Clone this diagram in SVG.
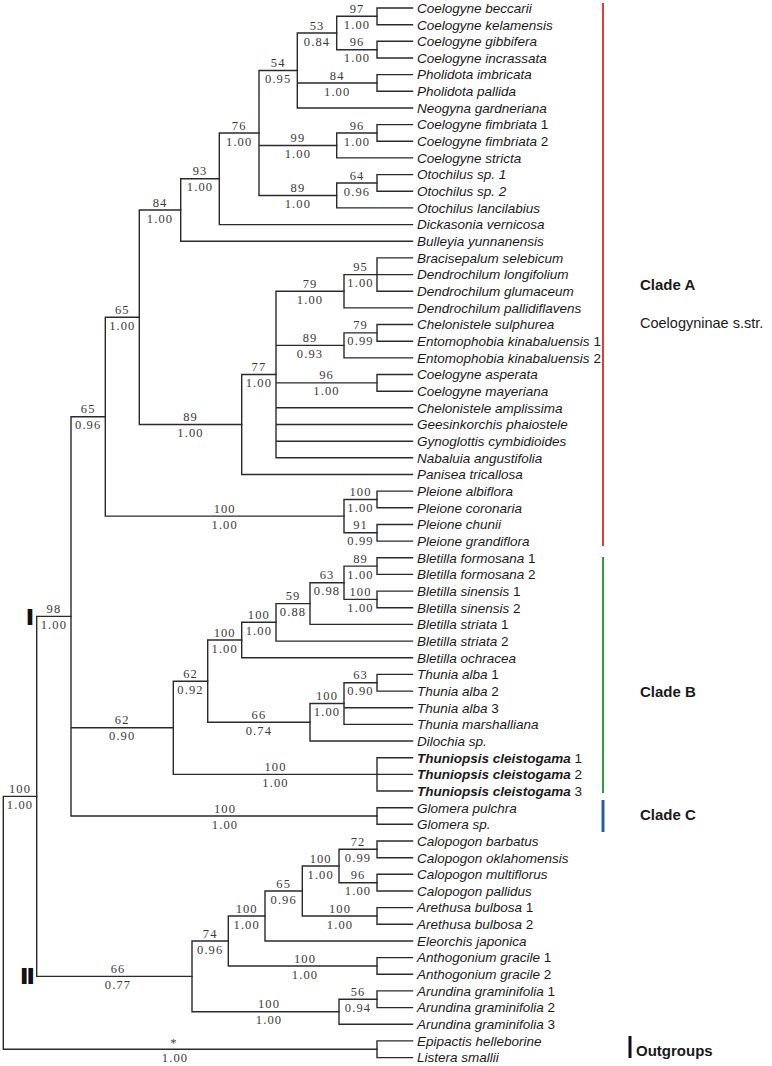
<svg xmlns="http://www.w3.org/2000/svg" width="772" height="1066" viewBox="0 0 772 1066">
<style>
.br{fill:none;stroke:#2a2a2a;stroke-width:1.4;stroke-linecap:square}
.lf{font-family:"Liberation Sans",Arial,sans-serif;font-size:13.5px;font-style:italic;fill:#1a1a1a}
.lf .n{font-style:normal}
.bd{font-weight:bold}
.sp{font-family:"Liberation Serif","Times New Roman",serif;font-size:12.5px;fill:#3a3a3a;text-anchor:middle;letter-spacing:1.1px}
.cl{font-family:"Liberation Sans",Arial,sans-serif;font-weight:bold;font-size:15px;fill:#1a1a1a}
.cs{font-family:"Liberation Sans",Arial,sans-serif;font-size:14.5px;fill:#1a1a1a}
.rm{font-family:"Liberation Sans",Arial,sans-serif;font-weight:bold;font-size:19.5px;fill:#111;stroke:#111;stroke-width:1.8;text-anchor:middle}
</style>
<rect width="772" height="1066" fill="#fff"/>
<g id="connectors">
<path class="br" d="M377 8V24.7M377 8H412.5M377 24.7H412.5"/>
<path class="br" d="M377 41.3V58M377 41.3H412.5M377 58H412.5"/>
<path class="br" d="M336.7 16.3V49.7M336.7 16.3H377M336.7 49.7H377"/>
<path class="br" d="M377 74.6V91.3M377 74.6H412.5M377 91.3H412.5"/>
<path class="br" d="M297.3 33V108M297.3 33H336.7M297.3 83H377M297.3 108H412.5"/>
<path class="br" d="M377 124.6V141.3M377 124.6H412.5M377 141.3H412.5"/>
<path class="br" d="M336.7 133V157.9M336.7 133H377M336.7 157.9H412.5"/>
<path class="br" d="M377 174.6V191.3M377 174.6H412.5M377 191.3H412.5"/>
<path class="br" d="M336.7 183V207.9M336.7 183H377M336.7 207.9H412.5"/>
<path class="br" d="M259 70.5V195.5M259 70.5H297.3M259 145.5H336.7M259 195.5H336.7"/>
<path class="br" d="M219.3 133V224.6M219.3 133H259M219.3 224.6H412.5"/>
<path class="br" d="M180.7 178.8V241.2M180.7 178.8H219.3M180.7 241.2H412.5"/>
<path class="br" d="M377 257.9V291.2M377 257.9H412.5M377 274.6H412.5M377 291.2H412.5"/>
<path class="br" d="M344 274.6V307.9M344 274.6H377M344 307.9H412.5"/>
<path class="br" d="M377 324.5V341.2M377 324.5H412.5M377 341.2H412.5"/>
<path class="br" d="M344 332.9V357.9M344 332.9H377M344 357.9H412.5"/>
<path class="br" d="M377 374.5V391.2M377 374.5H412.5M377 391.2H412.5"/>
<path class="br" d="M276 291.2V457.8M276 291.2H344M276 345.4H344M276 382.9H377M276 407.8H412.5M276 424.5H412.5M276 441.2H412.5M276 457.8H412.5"/>
<path class="br" d="M241.7 374.5V474.5M241.7 374.5H276M241.7 474.5H412.5"/>
<path class="br" d="M139.3 210V424.5M139.3 210H180.7M139.3 424.5H241.7"/>
<path class="br" d="M377 491.1V507.8M377 491.1H412.5M377 507.8H412.5"/>
<path class="br" d="M377 524.5V541.1M377 524.5H412.5M377 541.1H412.5"/>
<path class="br" d="M344 499.5V532.8M344 499.5H377M344 532.8H377"/>
<path class="br" d="M105.3 317.3V516.1M105.3 317.3H139.3M105.3 516.1H344"/>
<path class="br" d="M377 557.8V574.4M377 557.8H412.5M377 574.4H412.5"/>
<path class="br" d="M377 591.1V607.8M377 591.1H412.5M377 607.8H412.5"/>
<path class="br" d="M344 566.1V599.4M344 566.1H377M344 599.4H377"/>
<path class="br" d="M310 582.8V624.4M310 582.8H344M310 624.4H412.5"/>
<path class="br" d="M276 603.6V641.1M276 603.6H310M276 641.1H412.5"/>
<path class="br" d="M241.7 622.3V657.7M241.7 622.3H276M241.7 657.7H412.5"/>
<path class="br" d="M377 674.4V691.1M377 674.4H412.5M377 691.1H412.5"/>
<path class="br" d="M344 682.7V724.4M344 682.7H377M344 707.7H412.5M344 724.4H412.5"/>
<path class="br" d="M310 703.5V741M310 703.5H344M310 741H412.5"/>
<path class="br" d="M207.7 640V722.3M207.7 640H241.7M207.7 722.3H310"/>
<path class="br" d="M377 757.7V791M377 757.7H412.5M377 774.4H412.5M377 791H412.5"/>
<path class="br" d="M173.3 681.2V774.4M173.3 681.2H207.7M173.3 774.4H377"/>
<path class="br" d="M377 807.7V824.3M377 807.7H412.5M377 824.3H412.5"/>
<path class="br" d="M71 416.7V816M71 416.7H105.3M71 727.8H173.3M71 816H377"/>
<path class="br" d="M377 841V857.7M377 841H412.5M377 857.7H412.5"/>
<path class="br" d="M377 874.3V891M377 874.3H412.5M377 891H412.5"/>
<path class="br" d="M339 849.3V882.7M339 849.3H377M339 882.7H377"/>
<path class="br" d="M377 907.6V924.3M377 907.6H412.5M377 924.3H412.5"/>
<path class="br" d="M302.3 866V916M302.3 866H339M302.3 916H377"/>
<path class="br" d="M265 891V941M265 891H302.3M265 941H412.5"/>
<path class="br" d="M377 957.6V974.3M377 957.6H412.5M377 974.3H412.5"/>
<path class="br" d="M228.3 916V966M228.3 916H265M228.3 966H377"/>
<path class="br" d="M377 990.9V1007.6M377 990.9H412.5M377 1007.6H412.5"/>
<path class="br" d="M339 999.3V1024.3M339 999.3H377M339 1024.3H412.5"/>
<path class="br" d="M192 941V1011.8M192 941H228.3M192 1011.8H339"/>
<path class="br" d="M36.7 616.4V976.4M36.7 616.4H71M36.7 976.4H192"/>
<path class="br" d="M377 1040.9V1057.6M377 1040.9H412.5M377 1057.6H412.5"/>
<path class="br" d="M3.3 796.4V1049.3M3.3 796.4H36.7M3.3 1049.3H377"/>
</g>
<g id="supports">
<g id="n-a1"><text class="sp" x="357" y="12.8">97</text><text class="sp" x="357" y="28.8">1.00</text></g>
<g id="n-a2"><text class="sp" x="357" y="46.2">96</text><text class="sp" x="357" y="62.2">1.00</text></g>
<g id="n-a3"><text class="sp" x="317" y="29.5">53</text><text class="sp" x="317" y="45.5">0.84</text></g>
<g id="n-a4"><text class="sp" x="337.2" y="79.5">84</text><text class="sp" x="337.2" y="95.5">1.00</text></g>
<g id="n-a5"><text class="sp" x="278.2" y="67">54</text><text class="sp" x="278.2" y="83">0.95</text></g>
<g id="n-a6"><text class="sp" x="357" y="129.5">96</text><text class="sp" x="357" y="145.5">1.00</text></g>
<g id="n-a7"><text class="sp" x="297.9" y="142">99</text><text class="sp" x="297.9" y="158">1.00</text></g>
<g id="n-a8"><text class="sp" x="357" y="179.5">64</text><text class="sp" x="357" y="195.5">0.96</text></g>
<g id="n-a9"><text class="sp" x="297.9" y="192">89</text><text class="sp" x="297.9" y="208">1.00</text></g>
<g id="n-a10"><text class="sp" x="239.2" y="129.5">76</text><text class="sp" x="239.2" y="145.5">1.00</text></g>
<g id="n-a11"><text class="sp" x="200" y="175.3">93</text><text class="sp" x="200" y="191.3">1.00</text></g>
<g id="n-a12"><text class="sp" x="160" y="206.5">84</text><text class="sp" x="160" y="222.5">1.00</text></g>
<g id="n-a13"><text class="sp" x="360.5" y="271.1">95</text><text class="sp" x="360.5" y="287.1">1.00</text></g>
<g id="n-a14"><text class="sp" x="310" y="287.7">79</text><text class="sp" x="310" y="303.7">1.00</text></g>
<g id="n-a15"><text class="sp" x="360.5" y="329.4">79</text><text class="sp" x="360.5" y="345.4">0.99</text></g>
<g id="n-a16"><text class="sp" x="310" y="341.9">89</text><text class="sp" x="310" y="357.9">0.93</text></g>
<g id="n-a17"><text class="sp" x="326.5" y="379.4">96</text><text class="sp" x="326.5" y="395.4">1.00</text></g>
<g id="n-a18"><text class="sp" x="258.9" y="371">77</text><text class="sp" x="258.9" y="387">1.00</text></g>
<g id="n-a19"><text class="sp" x="190.5" y="421">89</text><text class="sp" x="190.5" y="437">1.00</text></g>
<g id="n-a20"><text class="sp" x="122.3" y="313.8">65</text><text class="sp" x="122.3" y="329.8">1.00</text></g>
<g id="n-a21"><text class="sp" x="360.5" y="496">100</text><text class="sp" x="360.5" y="512">1.00</text></g>
<g id="n-a22"><text class="sp" x="360.5" y="529.3">91</text><text class="sp" x="360.5" y="545.3">0.99</text></g>
<g id="n-a23"><text class="sp" x="224.7" y="512.6">100</text><text class="sp" x="224.7" y="528.6">1.00</text></g>
<g id="n-a24"><text class="sp" x="88.2" y="413.2">65</text><text class="sp" x="88.2" y="429.2">0.96</text></g>
<g id="n-b1"><text class="sp" x="360.5" y="562.6">89</text><text class="sp" x="360.5" y="578.6">1.00</text></g>
<g id="n-b2"><text class="sp" x="360.5" y="595.9">100</text><text class="sp" x="360.5" y="611.9">1.00</text></g>
<g id="n-b3"><text class="sp" x="327" y="579.3">63</text><text class="sp" x="327" y="595.3">0.98</text></g>
<g id="n-b4"><text class="sp" x="293" y="600.1">59</text><text class="sp" x="293" y="616.1">0.88</text></g>
<g id="n-b5"><text class="sp" x="258.9" y="618.8">100</text><text class="sp" x="258.9" y="634.8">1.00</text></g>
<g id="n-b6"><text class="sp" x="224.7" y="636.5">100</text><text class="sp" x="224.7" y="652.5">1.00</text></g>
<g id="n-b7"><text class="sp" x="360.5" y="679.2">63</text><text class="sp" x="360.5" y="695.2">0.90</text></g>
<g id="n-b8"><text class="sp" x="327" y="700">100</text><text class="sp" x="327" y="716">1.00</text></g>
<g id="n-b9"><text class="sp" x="258.9" y="718.8">66</text><text class="sp" x="258.9" y="734.8">0.74</text></g>
<g id="n-b10"><text class="sp" x="190.5" y="677.7">62</text><text class="sp" x="190.5" y="693.7">0.92</text></g>
<g id="n-b11"><text class="sp" x="275.5" y="770.9">100</text><text class="sp" x="275.5" y="786.9">1.00</text></g>
<g id="n-b12"><text class="sp" x="122.2" y="724.3">62</text><text class="sp" x="122.2" y="740.3">0.90</text></g>
<g id="n-c1"><text class="sp" x="225" y="812.5">100</text><text class="sp" x="225" y="828.5">1.00</text></g>
<g id="n-98"><text class="sp" x="53.9" y="612.9">98</text><text class="sp" x="53.9" y="628.9">1.00</text></g>
<g id="n-d1"><text class="sp" x="358" y="845.8">72</text><text class="sp" x="358" y="861.8">0.99</text></g>
<g id="n-d2"><text class="sp" x="358" y="879.2">96</text><text class="sp" x="358" y="895.2">1.00</text></g>
<g id="n-d3"><text class="sp" x="320.7" y="862.5">100</text><text class="sp" x="320.7" y="878.5">1.00</text></g>
<g id="n-d4"><text class="sp" x="340" y="912.5">100</text><text class="sp" x="340" y="928.5">1.00</text></g>
<g id="n-d5"><text class="sp" x="283.7" y="887.5">65</text><text class="sp" x="283.7" y="903.5">0.96</text></g>
<g id="n-d6"><text class="sp" x="246.7" y="912.5">100</text><text class="sp" x="246.7" y="928.5">1.00</text></g>
<g id="n-d7"><text class="sp" x="305" y="962.5">100</text><text class="sp" x="305" y="978.5">1.00</text></g>
<g id="n-d8"><text class="sp" x="210.2" y="937.5">74</text><text class="sp" x="210.2" y="953.5">0.96</text></g>
<g id="n-d9"><text class="sp" x="358" y="995.8">56</text><text class="sp" x="358" y="1011.8">0.94</text></g>
<g id="n-d10"><text class="sp" x="269" y="1008.3">100</text><text class="sp" x="269" y="1024.3">1.00</text></g>
<g id="n-d11"><text class="sp" x="118" y="972.9">66</text><text class="sp" x="118" y="988.9">0.77</text></g>
<g id="n-i"><text class="sp" x="20" y="792.9">100</text><text class="sp" x="20" y="808.9">1.00</text></g>
<g id="n-out"><text class="sp" x="174" y="1047">*</text><text class="sp" x="175" y="1061.8">1.00</text></g>
</g>
<g id="leaves">
<g id="l01"><text class="lf" x="417" y="12.8">Coelogyne beccarii</text></g>
<g id="l02"><text class="lf" x="417" y="29.5">Coelogyne kelamensis</text></g>
<g id="l03"><text class="lf" x="417" y="46.1">Coelogyne gibbifera</text></g>
<g id="l04"><text class="lf" x="417" y="62.8">Coelogyne incrassata</text></g>
<g id="l05"><text class="lf" x="417" y="79.4">Pholidota imbricata</text></g>
<g id="l06"><text class="lf" x="417" y="96.1">Pholidota pallida</text></g>
<g id="l07"><text class="lf" x="417" y="112.8">Neogyna gardneriana</text></g>
<g id="l08"><text class="lf" x="417" y="129.4">Coelogyne fimbriata <tspan class="n">1</tspan></text></g>
<g id="l09"><text class="lf" x="417" y="146.1">Coelogyne fimbriata <tspan class="n">2</tspan></text></g>
<g id="l10"><text class="lf" x="417" y="162.7">Coelogyne stricta</text></g>
<g id="l11"><text class="lf" x="417" y="179.4">Otochilus sp. 1</text></g>
<g id="l12"><text class="lf" x="417" y="196.1">Otochilus sp. 2</text></g>
<g id="l13"><text class="lf" x="417" y="212.7">Otochilus lancilabius</text></g>
<g id="l14"><text class="lf" x="417" y="229.4">Dickasonia vernicosa</text></g>
<g id="l15"><text class="lf" x="417" y="246">Bulleyia yunnanensis</text></g>
<g id="l16"><text class="lf" x="417" y="262.7">Bracisepalum selebicum</text></g>
<g id="l17"><text class="lf" x="417" y="279.4">Dendrochilum longifolium</text></g>
<g id="l18"><text class="lf" x="417" y="296">Dendrochilum glumaceum</text></g>
<g id="l19"><text class="lf" x="417" y="312.7">Dendrochilum pallidiflavens</text></g>
<g id="l20"><text class="lf" x="417" y="329.3">Chelonistele sulphurea</text></g>
<g id="l21"><text class="lf" x="417" y="346">Entomophobia kinabaluensis <tspan class="n">1</tspan></text></g>
<g id="l22"><text class="lf" x="417" y="362.7">Entomophobia kinabaluensis <tspan class="n">2</tspan></text></g>
<g id="l23"><text class="lf" x="417" y="379.3">Coelogyne asperata</text></g>
<g id="l24"><text class="lf" x="417" y="396">Coelogyne mayeriana</text></g>
<g id="l25"><text class="lf" x="417" y="412.6">Chelonistele amplissima</text></g>
<g id="l26"><text class="lf" x="417" y="429.3">Geesinkorchis phaiostele</text></g>
<g id="l27"><text class="lf" x="417" y="446">Gynoglottis cymbidioides</text></g>
<g id="l28"><text class="lf" x="417" y="462.6">Nabaluia angustifolia</text></g>
<g id="l29"><text class="lf" x="417" y="479.3">Panisea tricallosa</text></g>
<g id="l30"><text class="lf" x="417" y="495.9">Pleione albiflora</text></g>
<g id="l31"><text class="lf" x="417" y="512.6">Pleione coronaria</text></g>
<g id="l32"><text class="lf" x="417" y="529.3">Pleione chunii</text></g>
<g id="l33"><text class="lf" x="417" y="545.9">Pleione grandiflora</text></g>
<g id="l34"><text class="lf" x="417" y="562.6">Bletilla formosana <tspan class="n">1</tspan></text></g>
<g id="l35"><text class="lf" x="417" y="579.2">Bletilla formosana <tspan class="n">2</tspan></text></g>
<g id="l36"><text class="lf" x="417" y="595.9">Bletilla sinensis <tspan class="n">1</tspan></text></g>
<g id="l37"><text class="lf" x="417" y="612.6">Bletilla sinensis <tspan class="n">2</tspan></text></g>
<g id="l38"><text class="lf" x="417" y="629.2">Bletilla striata <tspan class="n">1</tspan></text></g>
<g id="l39"><text class="lf" x="417" y="645.9">Bletilla striata <tspan class="n">2</tspan></text></g>
<g id="l40"><text class="lf" x="417" y="662.5">Bletilla ochracea</text></g>
<g id="l41"><text class="lf" x="417" y="679.2">Thunia alba <tspan class="n">1</tspan></text></g>
<g id="l42"><text class="lf" x="417" y="695.9">Thunia alba <tspan class="n">2</tspan></text></g>
<g id="l43"><text class="lf" x="417" y="712.5">Thunia alba <tspan class="n">3</tspan></text></g>
<g id="l44"><text class="lf" x="417" y="729.2">Thunia marshalliana</text></g>
<g id="l45"><text class="lf" x="417" y="745.8">Dilochia sp.</text></g>
<g id="l46"><text class="lf" x="417" y="762.5"><tspan class="bd">Thuniopsis cleistogama</tspan> <tspan class="n">1</tspan></text></g>
<g id="l47"><text class="lf" x="417" y="779.2"><tspan class="bd">Thuniopsis cleistogama</tspan> <tspan class="n">2</tspan></text></g>
<g id="l48"><text class="lf" x="417" y="795.8"><tspan class="bd">Thuniopsis cleistogama</tspan> <tspan class="n">3</tspan></text></g>
<g id="l49"><text class="lf" x="417" y="812.5">Glomera pulchra</text></g>
<g id="l50"><text class="lf" x="417" y="829.1">Glomera sp.</text></g>
<g id="l51"><text class="lf" x="417" y="845.8">Calopogon barbatus</text></g>
<g id="l52"><text class="lf" x="417" y="862.5">Calopogon oklahomensis</text></g>
<g id="l53"><text class="lf" x="417" y="879.1">Calopogon multiflorus</text></g>
<g id="l54"><text class="lf" x="417" y="895.8">Calopogon pallidus</text></g>
<g id="l55"><text class="lf" x="417" y="912.4">Arethusa bulbosa <tspan class="n">1</tspan></text></g>
<g id="l56"><text class="lf" x="417" y="929.1">Arethusa bulbosa <tspan class="n">2</tspan></text></g>
<g id="l57"><text class="lf" x="417" y="945.8">Eleorchis japonica</text></g>
<g id="l58"><text class="lf" x="417" y="962.4">Anthogonium gracile <tspan class="n">1</tspan></text></g>
<g id="l59"><text class="lf" x="417" y="979.1">Anthogonium gracile <tspan class="n">2</tspan></text></g>
<g id="l60"><text class="lf" x="417" y="995.7">Arundina graminifolia <tspan class="n">1</tspan></text></g>
<g id="l61"><text class="lf" x="417" y="1012.4">Arundina graminifolia <tspan class="n">2</tspan></text></g>
<g id="l62"><text class="lf" x="417" y="1029.1">Arundina graminifolia <tspan class="n">3</tspan></text></g>
<g id="l63"><text class="lf" x="417" y="1045.7">Epipactis helleborine</text></g>
<g id="l64"><text class="lf" x="417" y="1062.4">Listera smallii</text></g>
</g>
<g id="markers">
<text class="rm" x="30" y="624.3">I</text>
<text class="rm" x="28" y="983.3" letter-spacing="1.2">II</text>
</g>
<g id="clades">
<g id="clade-a"><line x1="603" y1="3" x2="603" y2="546" stroke="#e03c3c" stroke-width="2"/><text class="cl" x="640" y="290">Clade A</text><text class="cs" x="640" y="328">Coelogyninae s.str.</text></g>
<g id="clade-b"><line x1="603" y1="557" x2="603" y2="793" stroke="#2f9a4f" stroke-width="2"/><text class="cl" x="640" y="697">Clade B</text></g>
<g id="clade-c"><line x1="603" y1="800" x2="603" y2="832" stroke="#2a5ca8" stroke-width="3"/><text class="cl" x="640" y="820">Clade C</text></g>
<g id="outgroups"><line x1="630" y1="1036" x2="630" y2="1058" stroke="#111" stroke-width="3"/><text class="cl" x="636" y="1056">Outgroups</text></g>
</g>
</svg>
